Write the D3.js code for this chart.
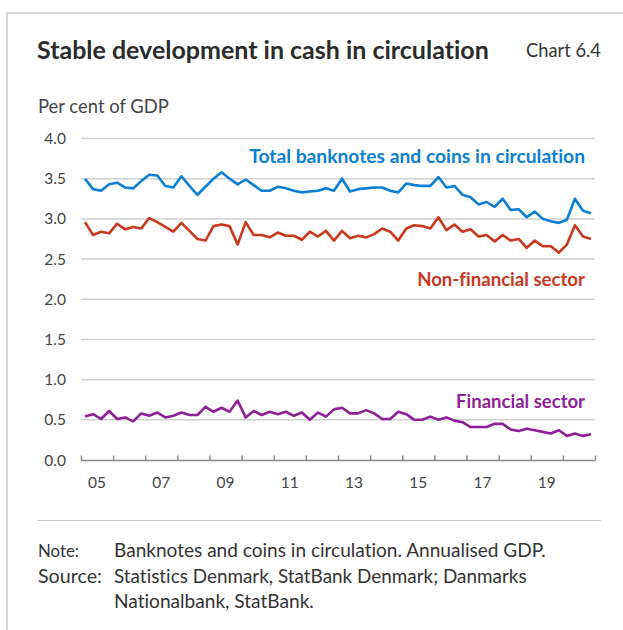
<!DOCTYPE html>
<html>
<head>
<meta charset="utf-8">
<script src="https://cdn.jsdelivr.net/npm/d3@7"></script>
<style>
  html, body { margin: 0; padding: 0; background: #fff; }
  svg { display: block; }
  text { font-family: "Lato", "Open Sans", sans-serif; font-variant-ligatures: none; }
</style>
</head>
<body>
<svg id="chart" width="623" height="630"></svg>
<script>
// ---------------- data ----------------
const startYear = 2005;            // first quarter = 2005 Q1
const endYear = 2021;              // axis runs to end of 2020
const yTicks = [0, 0.5, 1, 1.5, 2, 2.5, 3, 3.5, 4];
const xLabelYears = [2005, 2007, 2009, 2011, 2013, 2015, 2017, 2019];
const xLabels = ["05", "07", "09", "11", "13", "15", "17", "19"];

const totalCash = [
  3.50, 3.37, 3.35, 3.43, 3.45, 3.39, 3.38, 3.47,
  3.55, 3.54, 3.41, 3.39, 3.53, 3.41, 3.30, 3.40,
  3.50, 3.58, 3.50, 3.43, 3.49, 3.42, 3.35, 3.35,
  3.40, 3.38, 3.35, 3.33, 3.34, 3.35, 3.38, 3.35,
  3.50, 3.34, 3.37, 3.38, 3.39, 3.39, 3.35, 3.33,
  3.44, 3.42, 3.41, 3.41, 3.52, 3.39, 3.41, 3.30,
  3.27, 3.18, 3.21, 3.15, 3.25, 3.11, 3.12, 3.02,
  3.09, 3.00, 2.97, 2.95, 2.99, 3.25, 3.10, 3.07
];
const nonFinancial = [
  2.96, 2.80, 2.84, 2.82, 2.94, 2.87, 2.90, 2.88,
  3.01, 2.96, 2.90, 2.84, 2.95, 2.85, 2.75, 2.73,
  2.91, 2.93, 2.91, 2.68, 2.96, 2.80, 2.80, 2.77,
  2.83, 2.79, 2.79, 2.74, 2.84, 2.78, 2.85, 2.73,
  2.85, 2.76, 2.79, 2.77, 2.81, 2.88, 2.84, 2.73,
  2.88, 2.92, 2.91, 2.88, 3.02, 2.86, 2.93, 2.84,
  2.87, 2.78, 2.80, 2.72, 2.80, 2.73, 2.75, 2.64,
  2.73, 2.66, 2.66, 2.58, 2.68, 2.92, 2.78, 2.75
];
const financial = [
  0.54, 0.57, 0.51, 0.61, 0.51, 0.53, 0.48, 0.58,
  0.55, 0.59, 0.53, 0.55, 0.59, 0.56, 0.56, 0.66,
  0.60, 0.65, 0.60, 0.74, 0.53, 0.61, 0.56, 0.60,
  0.57, 0.60, 0.55, 0.59, 0.50, 0.59, 0.54, 0.63,
  0.65, 0.58, 0.58, 0.62, 0.58, 0.51, 0.51, 0.60,
  0.57, 0.50, 0.50, 0.54, 0.50, 0.53, 0.49, 0.47,
  0.41, 0.41, 0.41, 0.45, 0.45, 0.38, 0.36, 0.39,
  0.37, 0.35, 0.33, 0.37, 0.30, 0.33, 0.30, 0.32
];

const seriesNames = ["Total banknotes and coins in circulation", "Non-financial sector", "Financial sector"];
const seriesColors = ["#0a7fd3", "#c8391e", "#8f1f98"];
const seriesValues = [totalCash, nonFinancial, financial];

const title = "Stable development in cash in circulation";
const chartNo = "Chart 6.4";
const unitLabel = "Per cent of GDP";
const noteLabel = "Note:";
const sourceLabel = "Source:";
const noteText = "Banknotes and coins in circulation. Annualised GDP.";
const sourceLines = ["Statistics Denmark, StatBank Denmark; Danmarks", "Nationalbank, StatBank."];

// ---------------- drawing ----------------
const svg = d3.select("#chart");

function fit(sel, width) {
  const n = sel.node();
  const fs = parseFloat(sel.attr("font-size"));
  const w = n.getComputedTextLength();
  if (w > 0) sel.attr("font-size", fs * width / w);
  return sel;
}

// card border (top + left)
svg.append("path")
  .attr("d", "M7,630 L7,13 L623,13")
  .attr("fill", "none").attr("stroke", "#d5d5d5").attr("stroke-width", 2);

// title
fit(svg.append("text").attr("x", 37).attr("y", 59)
  .attr("font-size", 21).attr("font-weight", 700).attr("fill", "#2b2b2b")
  .text(title), 452);
fit(svg.append("text").attr("x", 526).attr("y", 57)
  .attr("font-size", 16).attr("fill", "#333")
  .text(chartNo), 75);
fit(svg.append("text").attr("x", 38).attr("y", 113)
  .attr("font-size", 15).attr("fill", "#444")
  .text(unitLabel), 131);

const x = d3.scaleLinear().domain([startYear, endYear]).range([81, 595]);
const y = d3.scaleLinear().domain([0, 4]).range([460, 138.5]);

// gridlines
svg.append("g").selectAll("line").data(yTicks.filter(d => d > 0)).join("line")
  .attr("x1", 81).attr("x2", 595)
  .attr("y1", d => y(d)).attr("y2", d => y(d))
  .attr("stroke", "#d0d0d0").attr("stroke-width", 1.5);

// y labels
svg.append("g").selectAll("text").data(yTicks).join("text")
  .attr("x", 66).attr("y", d => y(d) + 5.5)
  .attr("text-anchor", "end").attr("font-size", 15.5).attr("fill", "#444")
  .text(d => d.toFixed(1));

// x axis with ticks pointing up
const xAxis = d3.axisTop(x)
  .tickValues(d3.range(startYear, endYear + 1))
  .tickSize(5).tickFormat("");
const gx = svg.append("g").attr("transform", "translate(0,460.5)").call(xAxis);
gx.select(".domain").attr("stroke", "#8a8a8a").attr("stroke-width", 1.5)
  .attr("d", `M81,0H595`);
gx.selectAll(".tick line").attr("stroke", "#8a8a8a").attr("stroke-width", 1.5).attr("y2", -5);

svg.append("g").selectAll("text").data(xLabelYears).join("text")
  .attr("x", d => x(d + 0.5)).attr("y", 488)
  .attr("text-anchor", "middle").attr("font-size", 15.5).attr("fill", "#444")
  .text((d, i) => xLabels[i]);

// lines
const qx = i => x(startYear + (i + 0.5) / 4);
const line = d3.line().x((d, i) => qx(i)).y(d => y(d)).curve(d3.curveLinear);
seriesValues.forEach((vals, s) => {
  svg.append("path").datum(vals)
    .attr("d", line)
    .attr("fill", "none").attr("stroke", seriesColors[s])
    .attr("stroke-width", 2.6).attr("stroke-linejoin", "round");
});

// series labels
const labelPos = [[585, 163, 336], [585, 286, 168], [585, 408, 129]];
seriesNames.forEach((name, s) => {
  const t = svg.append("text").attr("x", labelPos[s][0]).attr("y", labelPos[s][1])
    .attr("text-anchor", "end").attr("font-size", 16).attr("font-weight", 700)
    .attr("fill", seriesColors[s]).text(name);
  fit(t, labelPos[s][2]);
});

// separator
svg.append("line").attr("x1", 37).attr("x2", 601).attr("y1", 520.5).attr("y2", 520.5)
  .attr("stroke", "#c8c8c8").attr("stroke-width", 1.2);

// notes
const noteG = svg.append("g").attr("fill", "#333");
fit(noteG.append("text").attr("x", 38).attr("y", 557).attr("font-size", 15).text(noteLabel), 41);
fit(noteG.append("text").attr("x", 114).attr("y", 557).attr("font-size", 15).text(noteText), 432);
fit(noteG.append("text").attr("x", 38).attr("y", 583).attr("font-size", 15).text(sourceLabel), 64);
fit(noteG.append("text").attr("x", 114).attr("y", 583).attr("font-size", 15).text(sourceLines[0]), 413);
fit(noteG.append("text").attr("x", 114).attr("y", 608).attr("font-size", 15).text(sourceLines[1]), 200);
</script>
</body>
</html>
